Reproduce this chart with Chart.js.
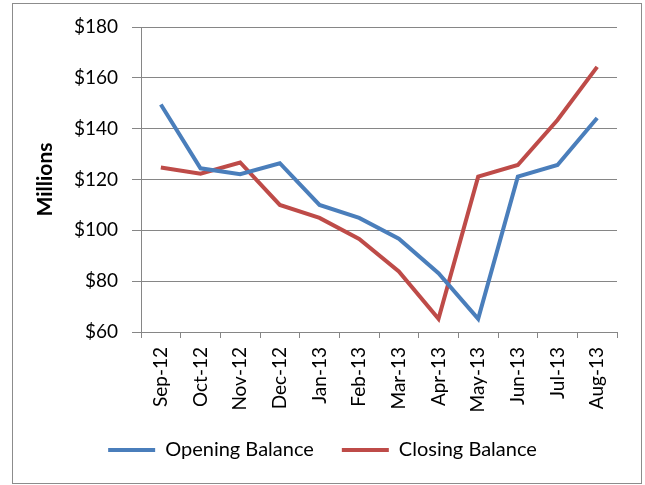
<!DOCTYPE html>
<html>
<head>
<meta charset="utf-8">
<script src="https://cdn.jsdelivr.net/npm/chart.js@4.4.0/dist/chart.umd.min.js"></script>
<style>
  body { margin: 0; background: #fff; }
  #wrap { width: 645px; height: 485px; }
</style>
</head>
<body>
<div id="wrap"><canvas id="myChart" width="645" height="485"></canvas></div>
<script>
var months = ["Sep-12", "Oct-12", "Nov-12", "Dec-12", "Jan-13", "Feb-13", "Mar-13", "Apr-13", "May-13", "Jun-13", "Jul-13", "Aug-13"]
var opening = [149.5, 124.4, 122.1, 126.4, 110.0, 104.9, 96.7, 83.1, 65.2, 121.1, 125.7, 144.2]
var closing = [124.7, 122.3, 126.7, 110.0, 104.9, 96.6, 83.8, 65.2, 121.1, 125.7, 143.4, 164.3]
var yTicks = [60, 80, 100, 120, 140, 160, 180]

var fontName = "Lato, 'Open Sans', sans-serif"

// white page + grey outer frame like the Excel chart box
var frame = {
  id: "frame",
  beforeDraw: function (chart) {
    var ctx = chart.ctx
    ctx.save()
    ctx.fillStyle = "#fff"
    ctx.fillRect(0, 0, chart.width, chart.height)
    ctx.strokeStyle = "#8c8c8c"
    ctx.lineWidth = 1
    ctx.strokeRect(12.5, 3.5, 629, 480)
    ctx.restore()
  }
}

var ctx = document.getElementById("myChart")
var myChart = new Chart(ctx, {
  type: "line",
  data: {
    labels: months,
    datasets: [{
      label: "Opening Balance",
      data: opening,
      borderColor: "#4A7EBB",
      backgroundColor: "#4A7EBB",
      borderWidth: 4,
      pointRadius: 0,
      tension: 0
    }, {
      label: "Closing Balance",
      data: closing,
      borderColor: "#BE4B48",
      backgroundColor: "#BE4B48",
      borderWidth: 4,
      pointRadius: 0,
      tension: 0
    }]
  },
  options: {
    responsive: false,
    animation: false,
    layout: { padding: { top: 27, left: 28, right: 28, bottom: 15 } },
    plugins: {
      tooltip: { enabled: false },
      legend: {
        position: "bottom",
        labels: {
          usePointStyle: true,
          pointStyle: "line",
          pointStyleWidth: 47,
          boxHeight: 20,
          padding: 28,
          color: "#000",
          font: { family: fontName, size: 20 }
        }
      }
    },
    scales: {
      x: {
        offset: true,
        grid: { offset: true, drawOnChartArea: false, drawTicks: true, tickLength: 6, color: "#868686" },
        border: { display: true, color: "#868686" },
        ticks: {
          maxRotation: 90, minRotation: 90, autoSkip: false,
          color: "#000", padding: 9,
          font: { family: fontName, size: 19 }
        },
        afterFit: function (scale) { scale.height = 80 }
      },
      y: {
        min: 60, max: 180,
        afterBuildTicks: function (scale) {
          scale.ticks = yTicks.map(function (v) { return { value: v } })
        },
        grid: { color: "#868686", tickLength: 9 },
        border: { display: true, color: "#868686" },
        ticks: {
          color: "#000", padding: 14,
          font: { family: fontName, size: 19 },
          callback: function (v) { return "$" + v }
        },
        title: {
          display: true, text: "Millions", color: "#000", padding: { top: 5, bottom: 0 },
          font: { family: fontName, size: 21, weight: "bold" }
        },
        afterFit: function (scale) { scale.width = 113 }
      }
    }
  },
  plugins: [frame]
})
</script>
</body>
</html>
